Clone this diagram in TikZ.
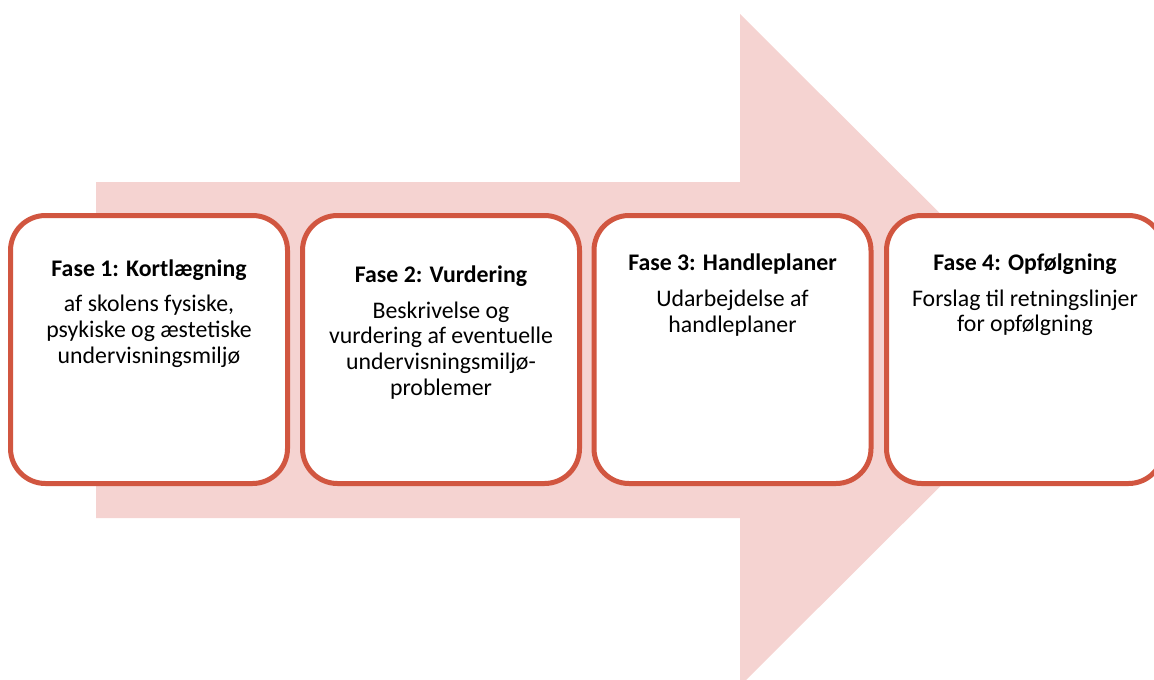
\documentclass[tikz,border=0pt]{standalone}
\usepackage{fontspec}
\setmainfont{Carlito}
\usetikzlibrary{positioning}

\definecolor{fasered}{RGB}{209,86,64}
\definecolor{arrowpink}{RGB}{245,211,209}

\tikzset{
	fasebox/.style={draw=fasered, fill=white, line width=5pt, rounded corners=35pt,
		minimum width=277pt, minimum height=268pt},
	fasetitle/.style={font=\fontsize{23.8}{25.7}\selectfont\bfseries, inner sep=0pt},
	fasetext/.style={font=\fontsize{23.8}{25.7}\selectfont, align=center, inner sep=0pt}
}

\begin{document}
\begin{tikzpicture}[x=1pt, y=-1pt]
	\useasboundingbox (0,0) rectangle (1154,680);
	\clip (0,0) rectangle (1154,680);
	% NOTE: y runs downwards, so coordinates read like pixels.
	\fill[arrowpink] (96,182) -- (740,182) -- (740,14) -- (1077,350) --
		(740,686) -- (740,518) -- (96,518) -- cycle;

	\node[fasebox] (box1) at (149,349.5) {};
	\node[fasebox] (box2) at (441,349.5) {};
	\node[fasebox] (box3) at (732.5,349.5) {};
	\node[fasebox] (box4) at (1025,349.5) {};

	\node[fasetitle, anchor=base] (title1) at (149,276) {Fase 1: Kortlægning};
	\node[fasetitle, anchor=base] (title2) at (441,282.5) {Fase 2: Vurdering};
	\node[fasetitle, anchor=base] (title3) at (732.5,270) {Fase 3: Handleplaner};
	\node[fasetitle, anchor=base] (title4) at (1025,270.5) {Fase 4: Opfølgning};

	\node[fasetext, below=0pt of title1.base] (text1) {\rule{0pt}{35.5pt}af skolens fysiske,\\
		psykiske og æstetiske\\undervisningsmiljø};
	\node[fasetext, below=0pt of title2.base] (text2) {\rule{0pt}{35.5pt}Beskrivelse og\\
		vurdering af eventuelle\\undervisningsmiljø-\\problemer};
	\node[fasetext, below=0pt of title3.base] (text3) {\rule{0pt}{36.5pt}Udarbejdelse af\\
		handleplaner};
	\node[fasetext, below=0pt of title4.base] (text4) {\rule{0pt}{35.5pt}Forslag til retningslinjer\\
		for opfølgning};
\end{tikzpicture}
\end{document}
